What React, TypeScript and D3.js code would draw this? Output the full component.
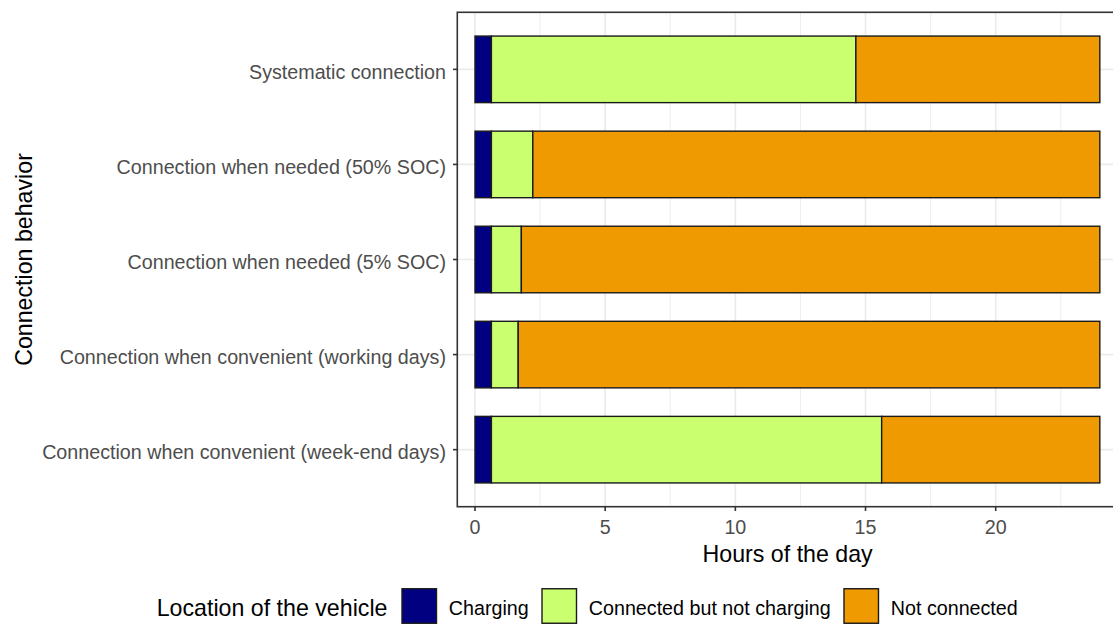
import React from "react";
import * as d3 from "d3";

const categories = [
  "Systematic connection",
  "Connection when needed (50% SOC)",
  "Connection when needed (5% SOC)",
  "Connection when convenient (working days)",
  "Connection when convenient (week-end days)",
];
const seriesKeys = ["Charging", "Connected but not charging", "Not connected"];
const charging = [0.63, 0.63, 0.63, 0.63, 0.63];
const connectedNotCharging = [14.0, 1.59, 1.15, 1.03, 14.99];
const notConnected = [9.37, 21.78, 22.22, 22.34, 8.38];
const xTicks = [0, 5, 10, 15, 20];
const xMinorTicks = [2.5, 7.5, 12.5, 17.5, 22.5];
const colors = ["#000080", "#CAFF70", "#EE9A00"];

const FONT = "'Liberation Sans', Arial, Helvetica, sans-serif";
const SMALL = 19.7;
const BIG = 23.2;

function textWidth(t: string, size: number): number {
  const c = document.createElement("canvas").getContext("2d");
  if (!c) return t.length * size * 0.5;
  c.font = `${size}px ${FONT}`;
  return c.measureText(t).width;
}

export default function App() {
  const W = 1113;
  const H = 624;
  const panelLeft = 457.3;
  const panelTop = 12.3;
  const panelBottom = 506.7;
  const x = d3.scaleLinear().domain([0, 24]).range([475, 475 + 24 * 26.035]);
  const panelRight = x(24.68);
  const y = d3.scalePoint<string>().domain(categories).range([panelTop, panelBottom]).padding(0.6);
  const barH = y.step() * 0.7;

  const rows = categories.map((c, i) => ({
    cat: c,
    [seriesKeys[0]]: charging[i],
    [seriesKeys[1]]: connectedNotCharging[i],
    [seriesKeys[2]]: notConnected[i],
  }));
  const stacked = d3.stack<any>().keys(seriesKeys)(rows);

  const gridCol = "#EBEBEB";
  const axisCol = "#333333";
  const tickTextCol = "#4D4D4D";

  // legend layout
  const legendY = 606;
  const titleX = 156.7;
  const keySize = 34.5;
  let lx = 402;
  const legendItems = seriesKeys.map((k, i) => {
    const item = { key: k, x: lx, color: colors[i] };
    lx = lx + keySize + 12.3 + textWidth(k, SMALL) + 13.3;
    return item;
  });

  return (
    <svg
      width={W}
      height={H}
      style={{ position: "absolute", left: 0, top: 0, background: "#fff" }}
      fontFamily={FONT}
    >
      <rect x={0} y={0} width={W} height={H} fill="#fff" />
      <clipPath id="panel">
        <rect x={panelLeft} y={panelTop} width={panelRight - panelLeft} height={panelBottom - panelTop} />
      </clipPath>
      <g clipPath="url(#panel)">
        {xMinorTicks.map((t) => (
          <line key={"mn" + t} x1={x(t)} x2={x(t)} y1={panelTop} y2={panelBottom} stroke={gridCol} strokeWidth={0.9} />
        ))}
        {xTicks.map((t) => (
          <line key={"mj" + t} x1={x(t)} x2={x(t)} y1={panelTop} y2={panelBottom} stroke={gridCol} strokeWidth={1.7} />
        ))}
        {categories.map((c) => (
          <line key={"hg" + c} x1={panelLeft} x2={panelRight} y1={y(c)} y2={y(c)} stroke={gridCol} strokeWidth={1.7} />
        ))}
        {stacked.map((s, si) =>
          s.map((d: any, i: number) => (
            <rect
              key={si + "-" + i}
              x={x(d[0])}
              y={(y(categories[i]) as number) - barH / 2}
              width={x(d[1]) - x(d[0])}
              height={barH}
              fill={colors[si]}
              stroke="#1a1a1a"
              strokeWidth={1.4}
            />
          ))
        )}
      </g>
      <rect
        x={panelLeft}
        y={panelTop}
        width={panelRight - panelLeft}
        height={panelBottom - panelTop}
        fill="none"
        stroke={axisCol}
        strokeWidth={1.6}
      />
      {/* x axis */}
      {xTicks.map((t) => (
        <g key={"xt" + t}>
          <line x1={x(t)} x2={x(t)} y1={panelBottom} y2={panelBottom + 4.3} stroke={axisCol} strokeWidth={1.6} />
          <text x={x(t)} y={526.5} textAnchor="middle" dominantBaseline="central" fontSize={SMALL} fill={tickTextCol}>
            {t}
          </text>
        </g>
      ))}
      <text x={(panelLeft + 1112) / 2 + 3} y={554} textAnchor="middle" dominantBaseline="central" fontSize={BIG} fill="#000">
        Hours of the day
      </text>
      {/* y axis */}
      {categories.map((c) => (
        <g key={"yt" + c}>
          <line x1={panelLeft - 4.3} x2={panelLeft} y1={y(c)} y2={y(c)} stroke={axisCol} strokeWidth={1.6} />
          <text
            x={446}
            y={(y(c) as number) + 2.5}
            textAnchor="end"
            dominantBaseline="central"
            fontSize={SMALL}
            fill={tickTextCol}
          >
            {c}
          </text>
        </g>
      ))}
      <text
        transform={`translate(24,${(panelTop + panelBottom) / 2}) rotate(-90)`}
        textAnchor="middle"
        dominantBaseline="central"
        fontSize={BIG}
        fill="#000"
      >
        Connection behavior
      </text>
      {/* legend */}
      <text x={titleX} y={legendY + 1.5} dominantBaseline="central" fontSize={BIG} fill="#000">
        Location of the vehicle
      </text>
      {legendItems.map((it) => (
        <g key={it.key}>
          <rect
            x={it.x}
            y={legendY - keySize / 2}
            width={keySize}
            height={keySize}
            fill={it.color}
            stroke="#1a1a1a"
            strokeWidth={1.4}
          />
          <text x={it.x + keySize + 12.3} y={legendY + 1.5} dominantBaseline="central" fontSize={SMALL} fill="#000">
            {it.key}
          </text>
        </g>
      ))}
    </svg>
  );
}
